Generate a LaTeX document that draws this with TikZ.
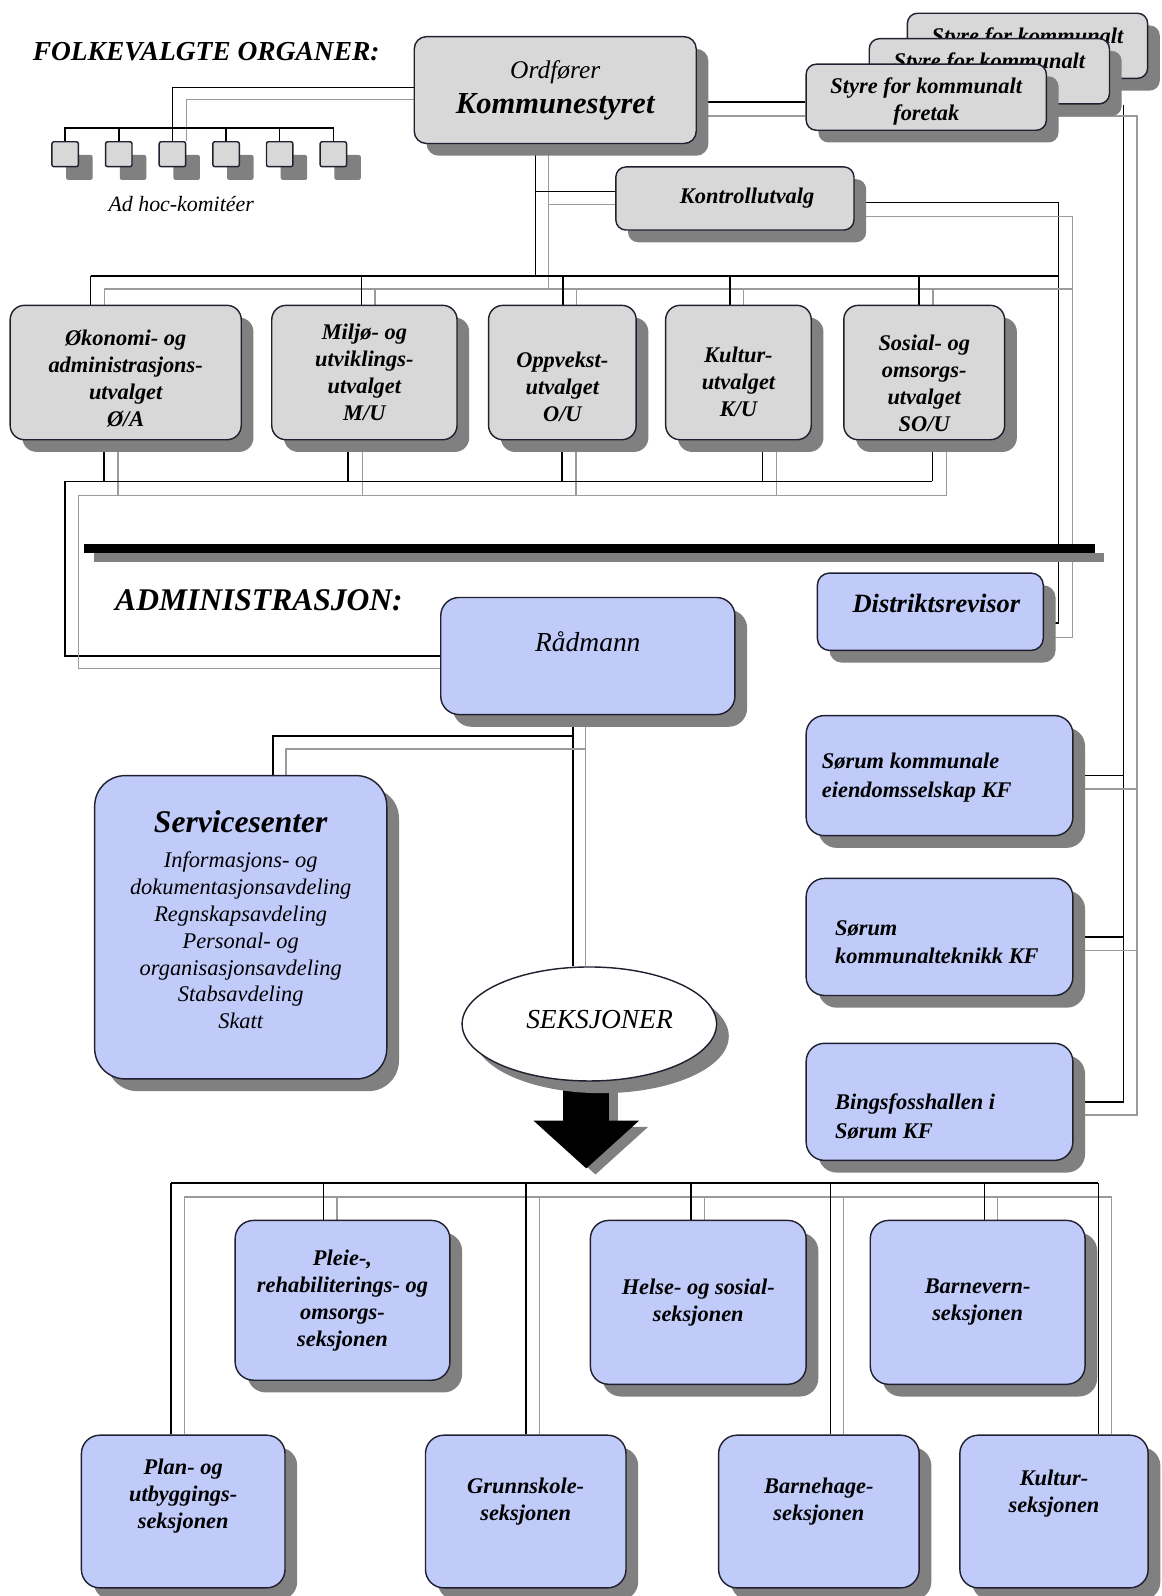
\documentclass[tikz,border=0pt]{standalone}
\usepackage{fontspec}
\setmainfont{Liberation Serif}
\usetikzlibrary{calc}
\usetikzlibrary{shadows}
\usetikzlibrary{backgrounds}
\usetikzlibrary{arrows.meta}
\usetikzlibrary{shapes.geometric}
\definecolor{organgray}{RGB}{216,216,216}
\definecolor{adminblue}{RGB}{192,203,249}
\definecolor{shadowgray}{RGB}{128,128,128}
\definecolor{railgray}{RGB}{155,155,155}
\definecolor{boxline}{RGB}{32,32,48}
\newcommand{\fsz}[1]{\fontsize{#1}{26.5}\selectfont}
\tikzset{shade12/.style={drop shadow={shadow xshift=12pt, shadow yshift=-12pt, fill=shadowgray, opacity=1}}}
\tikzset{box/.style={rectangle, rounded corners=14pt, draw=boxline, line width=1.4pt,
   inner sep=0pt, align=center, shade12, font=\fsz{22}\bfseries\itshape}}
\tikzset{organ/.style={box, fill=organgray}}
\tikzset{admin/.style={box, fill=adminblue, rounded corners=18pt}}
\tikzset{lbl/.style={align=center, inner sep=0pt, font=\fsz{22}\bfseries\itshape}}
\tikzset{kflbl/.style={lbl, align=left, anchor=west, font=\fontsize{22}{28}\selectfont\bfseries\itshape}}
\tikzset{komite/.style={rectangle, rounded corners=2pt, draw=boxline, line width=1.4pt,
   fill=organgray, minimum width=26pt, minimum height=24.5pt,
   drop shadow={shadow xshift=14pt, shadow yshift=-13pt, fill=shadowgray, opacity=1}}}
\tikzset{heading/.style={inner sep=0pt, anchor=west}}
\tikzset{blk/.style={line width=1.5pt, black}}
\tikzset{gry/.style={line width=1.3pt, railgray}}

\begin{document}
\begin{tikzpicture}[x=1pt, y=-1pt]
\useasboundingbox (0,0) rectangle (1141,1568);

% folkevalgte organer
\node[heading, font=\fsz{27}\bfseries\itshape] (folk) at (32,51) {FOLKEVALGTE ORGANER:};
\node[organ, rounded corners=12pt, minimum width=277pt, minimum height=105pt] (ks) at (545.5,88.5)
  {{\fsz{25}\mdseries Ordfører}\\[8pt]{\fsz{30}Kommunestyret}};

\foreach \nm/\px/\py in {styreA/1009.5/45, styreB/972/70}
  \node[organ, rounded corners=10pt, minimum width=236pt, minimum height=64pt,
    label={[lbl, yshift=8pt]center:Styre for kommunalt}] (\nm) at (\px,\py) {};
\node[organ, rounded corners=10pt, minimum width=236pt, minimum height=65pt,
  label={[lbl, yshift=-4pt]center:{Styre for kommunalt\\foretak}}] (styreC) at (910,95.5) {};

\foreach \i in {1,...,6}
  \node[komite] (a\i) at ({64+52.7*(\i-1)},151.5) {};
\node[font=\fsz{21.5}\itshape] (adhoc) at (178,200) {Ad hoc-komitéer};

\node[organ, rounded corners=10pt, minimum width=234pt, minimum height=62pt,
  label={[lbl, xshift=12pt]center:Kontrollutvalg}] (ku) at (722,195) {};

% utvalgene
\node[organ, minimum width=227pt, minimum height=132pt,
  label={[lbl, yshift=-6pt]center:{Økonomi- og\\administrasjons-\\utvalget\\Ø/A}}] (oa) at (123.5,366) {};
\node[organ, minimum width=182pt, minimum height=132pt] (mu) at (358,366)
  {Miljø- og\\utviklings-\\utvalget\\M/U};
\node[organ, minimum width=145pt, minimum height=132pt,
  label={[lbl, yshift=-14pt]center:{Oppvekst-\\utvalget\\O/U}}] (ou) at (552.5,366) {};
\node[organ, minimum width=143pt, minimum height=132pt,
  label={[lbl, yshift=-9pt]center:{Kultur-\\utvalget\\K/U}}] (kuu) at (725.5,366) {};
\node[organ, minimum width=158pt, minimum height=132pt,
  label={[lbl, yshift=-10.5pt]center:{Sosial- og\\omsorgs-\\utvalget\\SO/U}}] (sou) at (908,366) {};

% skillelinje
\fill[shadowgray] (92,543) rectangle (1085,552);
\fill[black] (83,534) rectangle (1076,543);

% administrasjon
\node[heading, font=\fsz{31}\bfseries\itshape] (adm) at (113,590) {ADMINISTRASJON:};
\node[admin, rounded corners=12pt, minimum width=222pt, minimum height=76pt,
  label={[lbl, font=\fsz{26}\bfseries\itshape, xshift=6pt, yshift=8pt]center:Distriktsrevisor}] (dr) at (914,601) {};
\node[admin, minimum width=289pt, minimum height=115pt,
  label={[lbl, font=\fsz{27}\itshape, yshift=14.5pt]center:Rådmann}] (radmann) at (577.5,644.5) {};
\node[admin, rounded corners=30pt, minimum width=287pt, minimum height=298pt,
  label={[lbl, font=\fsz{22}\itshape, yshift=7.5pt]center:{{\fsz{31}\bfseries Servicesenter}\\[8pt]Informasjons- og\\dokumentasjonsavdeling\\Regnskapsavdeling\\Personal- og\\organisasjonsavdeling\\Stabsavdeling\\Skatt}}] (service) at (236.5,911) {};
\node[ellipse, draw=boxline, line width=1.4pt, fill=white, shade12, inner sep=0pt,
  minimum width=250pt, minimum height=112pt,
  label={[font=\fsz{27}\itshape, xshift=10pt, yshift=4pt]center:SEKSJONER}] (seksjoner) at (579,1006) {};

\node[admin, minimum width=262pt, minimum height=118pt,
  label={[kflbl, xshift=16pt, yshift=-2pt]west:{Sørum kommunale\\eiendomsselskap KF}}] (sk1) at (923,762) {};
\node[admin, minimum width=262pt, minimum height=115pt,
  label={[kflbl, xshift=29pt, yshift=-5pt]west:{Sørum\\kommunalteknikk KF}}] (sk2) at (923,920.5) {};
\node[admin, minimum width=262pt, minimum height=115pt,
  label={[kflbl, xshift=29pt, yshift=-14.5pt]west:{Bingsfosshallen i\\Sørum KF}}] (sk3) at (923,1082.5) {};

% seksjonene
\node[admin, minimum width=211pt, minimum height=157pt] (pleie) at (336.5,1277.5)
  {Pleie-,\\rehabiliterings- og\\omsorgs-\\seksjonen};
\node[admin, minimum width=212pt, minimum height=161pt] (helse) at (686,1279.5)
  {Helse- og sosial-\\seksjonen};
\node[admin, minimum width=211pt, minimum height=161pt] (barnevern) at (960.5,1279.5)
  {Barnevern-\\seksjonen};
\node[admin, minimum width=200pt, minimum height=150pt,
  label={[lbl, yshift=15pt]center:{Plan- og\\utbyggings-\\seksjonen}}] (plan) at (180,1485) {};
\node[admin, minimum width=197pt, minimum height=150pt,
  label={[lbl, yshift=9.5pt]center:{Grunnskole-\\seksjonen}}] (grunn) at (516.5,1485) {};
\node[admin, minimum width=197pt, minimum height=150pt,
  label={[lbl, yshift=9.5pt]center:{Barnehage-\\seksjonen}}] (barneh) at (804.5,1485) {};
\node[admin, minimum width=185pt, minimum height=150pt,
  label={[lbl, yshift=18pt]center:{Kultur-\\seksjonen}}] (kultur) at (1035.5,1485) {};

\begin{scope}[on background layer]
  % rails
  \coordinate (adb) at (0,86);
  \coordinate (adg) at (0,98);
  \coordinate (adbus) at (0,126);
  \coordinate (stb) at (0,100);
  \coordinate (stg) at (0,114);
  \coordinate (rvb) at (1104,0);
  \coordinate (rvg) at (1117,0);
  \coordinate (revb) at (1040,0);
  \coordinate (revg) at (1054,0);
  \coordinate (cbb) at (0,271);
  \coordinate (cbg) at (0,284);
  \coordinate (lcb) at (64,473);
  \coordinate (lcg) at (77,487);
  \coordinate (srb) at (0,723);
  \coordinate (srg) at (0,736);
  \coordinate (sbb) at (0,1162);
  \coordinate (sbg) at (0,1176);

  % kommunestyret - ad hoc
  \draw[blk] (ks.west |- adb) -| (a3.north);
  \draw[gry] (ks.west |- adg) -| ($(a3.north)+(14,0)$);
  \draw[blk] (a1.north) -- (a1.north |- adbus) -- (a6.north |- adbus) -- (a6.north);
  \foreach \i in {2,...,5}
    \draw[blk] (a\i.north) -- (a\i.north |- adbus);

  % kommunestyret - foretak
  \draw[blk] (ks.east |- stb) -- (styreC.west |- stb);
  \draw[gry] (ks.east |- stg) -- (styreC.west |- stg);
  \draw[blk] (styreB.south -| rvb) -- (rvb |- sk3.east) -- (sk3.east);
  \foreach \n in {sk1,sk2}
    \draw[blk] (\n.east) -- (\n.east -| rvb);
  \path ($(sk3.east)+(0,13)$) coordinate (sk3g);
  \draw[gry] (styreC.east |- stg) -| (rvg |- sk3g) -- (sk3g);
  \foreach \n in {sk1,sk2} {
    \path ($(\n.east)+(0,13)$) coordinate (q);
    \draw[gry] (q) -- (q -| rvg);
  }

  % kommunestyret - kontrollutvalg - distriktsrevisor
  \path ($(ks.south)+(-19.5,0)$) coordinate (ksb) ($(ks.south)+(-6.5,0)$) coordinate (ksg);
  \path ($(ku.west)+(0,-7)$) coordinate (kuwb) ($(ku.west)+(0,6)$) coordinate (kuwg);
  \path ($(ku.east)+(0,4)$) coordinate (kueb) ($(ku.east)+(0,18)$) coordinate (kueg);
  \path ($(dr.east)+(0,11)$) coordinate (dreb) ($(dr.east)+(0,25)$) coordinate (dreg);
  \draw[blk] (ksb) -- (ksb |- cbb);
  \draw[gry] (ksg) -- (ksg |- cbg);
  \draw[blk] (ksb |- kuwb) -- (kuwb);
  \draw[gry] (ksg |- kuwg) -- (kuwg);
  \draw[blk] (kueb) -| (revb |- dreb) -- (dreb);
  \draw[gry] (kueg) -| (revg |- dreg) -- (dreg);

  % utvalgene, oppe
  \path ($(oa.north)+(-34.5,0)$) coordinate (cbl) ($(oa.north)+(-21,0)$) coordinate (cgl);
  \draw[blk] (cbl |- cbb) -- (revb |- cbb);
  \draw[gry] (cgl |- cbg) -- (revg |- cbg);
  \foreach \n/\dx in {oa/-34.5, mu/-3, ou/0.5, kuu/-8.5, sou/-5} {
    \path ($(\n.north)+(\dx,0)$) coordinate (tb) ($(\n.north)+(\dx+13.5,0)$) coordinate (tg);
    \draw[blk] (tb) -- (tb |- cbb);
    \draw[gry] (tg) -- (tg |- cbg);
  }

  % utvalgene, nede - raadmann
  \foreach \n/\dx in {oa/-21.5, mu/-16, ou/-0.5, kuu/23.5, sou/8} {
    \path ($(\n.south)+(\dx,0)$) coordinate (bb) ($(\n.south)+(\dx+14,0)$) coordinate (bg);
    \draw[blk] (bb) -- (bb |- lcb);
    \draw[gry] (bg) -- (bg |- lcg);
  }
  \path ($(sou.south)+(8,0)$) coordinate (soub) ($(sou.south)+(22,0)$) coordinate (soug);
  \draw[blk] (soub |- lcb) -- (lcb) |- (radmann.west);
  \draw[gry] (soug |- lcg) -- (lcg) |- ($(radmann.west)+(0,12)$);

  % raadmann - servicesenter, seksjoner
  \path ($(radmann.south)+(-14.5,0)$) coordinate (rsb) ($(radmann.south)+(-2.5,0)$) coordinate (rsg);
  \path ($(service.north)+(31.5,0)$) coordinate (svb) ($(service.north)+(44.5,0)$) coordinate (svg);
  \draw[blk] (rsb) -- (rsb |- seksjoner.north);
  \draw[gry] (rsg) -- (rsg |- seksjoner.north);
  \draw[blk] (rsb |- srb) -| (svb);
  \draw[gry] (rsg |- srg) -| (svg);

  % seksjonene
  \path ($(plan.north)+(-12,0)$) coordinate (sl) ($(kultur.north)+(43.5,0)$) coordinate (sr);
  \path (sl |- sbb) coordinate (slb) (sr |- sbb) coordinate (srbus);
  \path ($(sl |- sbg)+(13,0)$) coordinate (slg) ($(sr |- sbg)+(13,0)$) coordinate (srgus);
  \draw[blk] (slb) -- (srbus);
  \draw[gry] (slg) -- (srgus);
  \foreach \n/\dx in {plan/-12, pleie/-18.5, grunn/0.5, helse/-7, barneh/11.5, barnevern/6.5, kultur/43.5} {
    \path ($(\n.north)+(\dx,0)$) coordinate (tb) ($(\n.north)+(\dx+13,0)$) coordinate (tg);
    \draw[blk] (tb) -- (tb |- sbb);
    \draw[gry] (tg) -- (tg |- sbg);
  }

  % pil
  \coordinate (arrowtip) at (576,1148);
  \path (arrowtip |- seksjoner) coordinate (arrowtail);
  \draw[line width=45pt, shadowgray, -{Triangle[length=47pt, width=101pt]}]
    ($(arrowtail)+(9,6)$) -- ($(arrowtip)+(9,6)$);
  \draw[line width=45pt, black, -{Triangle[length=47pt, width=101pt]}] (arrowtail) -- (arrowtip);
\end{scope}

\end{tikzpicture}
\end{document}
